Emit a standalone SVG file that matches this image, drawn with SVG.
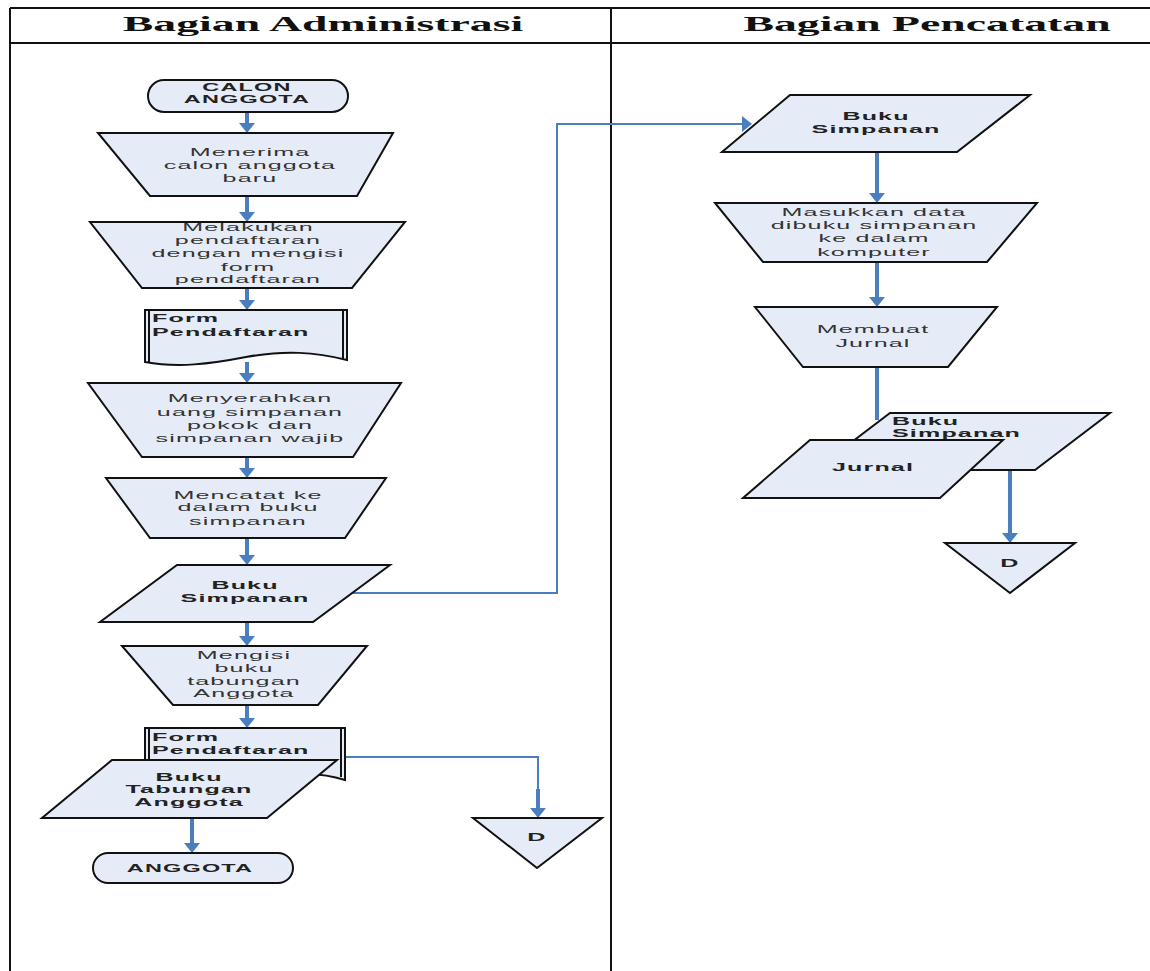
<svg xmlns="http://www.w3.org/2000/svg" width="1150" height="971" viewBox="0 0 1150 971">
<style>
.sh{fill:#e6ecf7;stroke:#111;stroke-width:2;stroke-linejoin:miter}
.t{font-family:"Liberation Sans",Arial,sans-serif;font-size:11px;fill:#333;text-anchor:middle;letter-spacing:0.5px}
.b{font-weight:bold;fill:#222}
.s{text-anchor:start}
.h{font-family:"Liberation Serif","Times New Roman",serif;font-size:22px;font-weight:bold;fill:#111;text-anchor:middle}
.ln{stroke:#111;stroke-width:2;fill:none}
.ar{stroke:#4a7ebf;stroke-width:4;fill:none}
.cn{stroke:#4a7ebf;stroke-width:2;fill:none}
</style>
<defs>
<marker id="ah" markerUnits="userSpaceOnUse" markerWidth="12" markerHeight="18" refX="7" refY="8" orient="auto">
<path d="M0,0 L10,8 L0,16 Z" fill="#4a7ebf"/>
</marker>
</defs>
<rect width="1150" height="971" fill="#fff"/>
<g id="table">
<line class="ln" x1="10" y1="8" x2="1150" y2="8"/>
<line class="ln" x1="10" y1="43" x2="1150" y2="43"/>
<line class="ln" x1="10" y1="8" x2="10" y2="971"/>
<line class="ln" x1="611" y1="8" x2="611" y2="971"/>
<text class="h" transform="translate(323 31) scale(2.08 1)">Bagian Administrasi</text>
<text class="h" transform="translate(927 31) scale(2.08 1)">Bagian Pencatatan</text>
</g>
<g id="connectors">
<line class="ar" x1="247" y1="112" x2="247" y2="130" marker-end="url(#ah)"/>
<line class="ar" x1="247" y1="196" x2="247" y2="219" marker-end="url(#ah)"/>
<line class="ar" x1="247" y1="288" x2="247" y2="307" marker-end="url(#ah)"/>
<line class="ar" x1="247" y1="362" x2="247" y2="380" marker-end="url(#ah)"/>
<line class="ar" x1="247" y1="457" x2="247" y2="475" marker-end="url(#ah)"/>
<line class="ar" x1="247" y1="538" x2="247" y2="562" marker-end="url(#ah)"/>
<line class="ar" x1="247" y1="622" x2="247" y2="643" marker-end="url(#ah)"/>
<line class="ar" x1="247" y1="705" x2="247" y2="725" marker-end="url(#ah)"/>
<line class="ar" x1="192" y1="818" x2="192" y2="850" marker-end="url(#ah)"/>
<polyline class="cn" points="352,593 557,593 557,124 749,124" marker-end="url(#ah)"/>
<polyline class="cn" points="345,757 538,757 538,790"/>
<line class="ar" x1="538" y1="789" x2="538" y2="815" marker-end="url(#ah)"/>
<line class="ar" x1="877" y1="152" x2="877" y2="200" marker-end="url(#ah)"/>
<line class="ar" x1="877" y1="262" x2="877" y2="304" marker-end="url(#ah)"/>
<line class="ar" x1="877" y1="367" x2="877" y2="420"/>
<line class="ar" x1="1010" y1="470" x2="1010" y2="540" marker-end="url(#ah)"/>
</g>
<g id="calon">
<rect class="sh" x="148" y="80" width="200" height="32" rx="16"/>
<text class="t b" style="font-size:10px" transform="translate(247 91) scale(2.35 1)">CALON</text>
<text class="t b" style="font-size:10px" transform="translate(247 103) scale(2.35 1)">ANGGOTA</text>
</g>
<g id="menerima">
<polygon class="sh" points="98,133 393,133 357,196 150,196"/>
<text class="t" transform="translate(250 156) scale(2.28 1)">Menerima</text>
<text class="t" transform="translate(250 169) scale(2.28 1)">calon anggota</text>
<text class="t" transform="translate(250 182) scale(2.28 1)">baru</text>
</g>
<g id="melakukan">
<polygon class="sh" points="90,222 405,222 352,288 142,288"/>
<text class="t" transform="translate(248 231) scale(2.28 1)">Melakukan</text>
<text class="t" transform="translate(248 244) scale(2.28 1)">pendaftaran</text>
<text class="t" transform="translate(248 257) scale(2.28 1)">dengan mengisi</text>
<text class="t" transform="translate(248 271) scale(2.28 1)">form</text>
<text class="t" transform="translate(248 283) scale(2.28 1)">pendaftaran</text>
</g>
<g id="form1">
<path class="sh" d="M145,310 H347 V360 C315,352 285,350 246,357 C210,364 178,368 145,362 Z"/>
<line class="ln" x1="149" y1="311" x2="149" y2="362"/>
<line class="ln" x1="343" y1="311" x2="343" y2="359"/>
<text class="t b s" transform="translate(152 322) scale(2.28 1)">Form</text>
<text class="t b s" transform="translate(152 336) scale(2.28 1)">Pendaftaran</text>
</g>
<g id="menyerahkan">
<polygon class="sh" points="88,383 401,383 353,457 142,457"/>
<text class="t" transform="translate(250 402) scale(2.28 1)">Menyerahkan</text>
<text class="t" transform="translate(250 416) scale(2.28 1)">uang simpanan</text>
<text class="t" transform="translate(250 429) scale(2.28 1)">pokok dan</text>
<text class="t" transform="translate(250 442) scale(2.28 1)">simpanan wajib</text>
</g>
<g id="mencatat">
<polygon class="sh" points="106,478 386,478 345,538 150,538"/>
<text class="t" transform="translate(248 499) scale(2.28 1)">Mencatat ke</text>
<text class="t" transform="translate(248 511) scale(2.28 1)">dalam buku</text>
<text class="t" transform="translate(248 525) scale(2.28 1)">simpanan</text>
</g>
<g id="bukusimpanan1">
<polygon class="sh" points="177,565 390,565 313,622 100,622"/>
<text class="t b" transform="translate(245 589) scale(2.28 1)">Buku</text>
<text class="t b" transform="translate(245 602) scale(2.28 1)">Simpanan</text>
</g>
<g id="mengisi">
<polygon class="sh" points="122,646 367,646 318,705 173,705"/>
<text class="t" transform="translate(244 659) scale(2.28 1)">Mengisi</text>
<text class="t" transform="translate(244 672) scale(2.28 1)">buku</text>
<text class="t" transform="translate(244 685) scale(2.28 1)">tabungan</text>
<text class="t" transform="translate(244 697) scale(2.28 1)">Anggota</text>
</g>
<g id="form2">
<path class="sh" d="M145,728 H345 V780 C322,773 300,771 246,778 C200,785 170,786 145,780 Z"/>
<line class="ln" x1="149" y1="729" x2="149" y2="780"/>
<line class="ln" x1="341" y1="729" x2="341" y2="777"/>
<text class="t b s" transform="translate(152 741) scale(2.28 1)">Form</text>
<text class="t b s" transform="translate(152 754) scale(2.28 1)">Pendaftaran</text>
</g>
<g id="bukutabungan">
<polygon class="sh" points="112,760 337,760 267,818 42,818"/>
<text class="t b" transform="translate(189 781) scale(2.28 1)">Buku</text>
<text class="t b" transform="translate(189 793) scale(2.28 1)">Tabungan</text>
<text class="t b" transform="translate(189 806) scale(2.28 1)">Anggota</text>
</g>
<g id="anggota">
<rect class="sh" x="93" y="853" width="200" height="30" rx="15"/>
<text class="t b" style="font-size:10px" transform="translate(190 872) scale(2.35 1)">ANGGOTA</text>
</g>
<g id="d1">
<polygon class="sh" points="473,818 602,818 537,868"/>
<text class="t b" transform="translate(537 841) scale(2.28 1)">D</text>
</g>
<g id="bukusimpanan2">
<polygon class="sh" points="790,95 1030,95 957,152 722,152"/>
<text class="t b" transform="translate(876 120) scale(2.28 1)">Buku</text>
<text class="t b" transform="translate(876 133) scale(2.28 1)">Simpanan</text>
</g>
<g id="masukkan">
<polygon class="sh" points="715,203 1037,203 987,262 763,262"/>
<text class="t" transform="translate(874 216) scale(2.28 1)">Masukkan data</text>
<text class="t" transform="translate(874 229) scale(2.28 1)">dibuku simpanan</text>
<text class="t" transform="translate(874 242) scale(2.28 1)">ke dalam</text>
<text class="t" transform="translate(874 256) scale(2.28 1)">komputer</text>
</g>
<g id="membuat">
<polygon class="sh" points="755,307 997,307 948,367 803,367"/>
<text class="t" transform="translate(873 333) scale(2.28 1)">Membuat</text>
<text class="t" transform="translate(873 347) scale(2.28 1)">Jurnal</text>
</g>
<g id="bukusimpanan3">
<polygon class="sh" points="890,413 1110,413 1035,470 815,470"/>
<text class="t b s" transform="translate(892 425) scale(2.28 1)">Buku</text>
<text class="t b s" transform="translate(892 437) scale(2.28 1)">Simpanan</text>
</g>
<g id="jurnal">
<polygon class="sh" points="810,440 1003,440 940,498 743,498"/>
<text class="t b" transform="translate(873 471) scale(2.28 1)">Jurnal</text>
</g>
<g id="d2">
<polygon class="sh" points="945,543 1075,543 1010,593"/>
<text class="t b" transform="translate(1010 567) scale(2.28 1)">D</text>
</g>
</svg>
